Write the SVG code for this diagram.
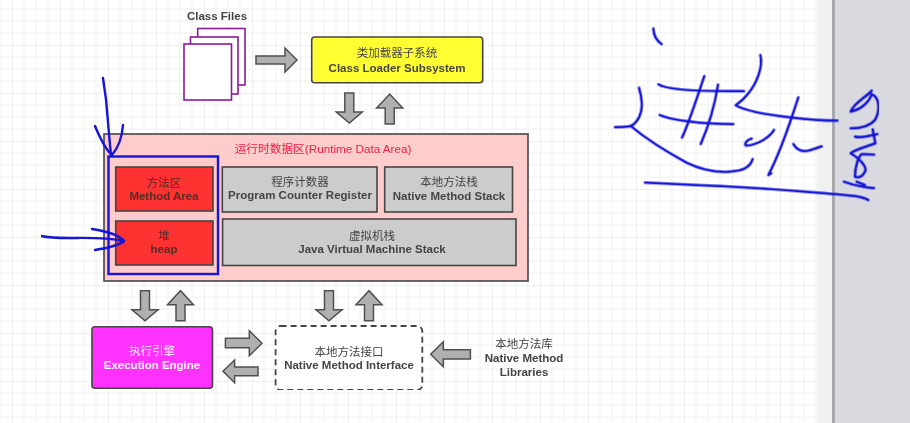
<svg xmlns="http://www.w3.org/2000/svg" width="910" height="423" viewBox="0 0 910 423">
<style>
text{font-family:"Liberation Sans","Noto Sans CJK SC",sans-serif;font-size:11.5px;text-anchor:middle;fill:#444}
.b{font-weight:bold}
.box{stroke:#444;stroke-width:1.6}
.gray{fill:#cccccc}
.red{fill:#ff3030}
.red text{fill:#5c2a2a}
.arr{fill:#b0b0b0;stroke:#505050;stroke-width:1.5;stroke-linejoin:miter}
.file{fill:#fff;stroke:#8a1a96;stroke-width:1.6}
.ink{fill:none;stroke:#1212d8;stroke-linecap:round;stroke-linejoin:round}
</style>
<defs>
<filter id="soft" x="0" y="0" width="100%" height="100%"><feGaussianBlur stdDeviation="0.4"/></filter>
<pattern id="g" width="48" height="48" patternUnits="userSpaceOnUse" x="12" y="45">
<path d="M12 0V48M24 0V48M36 0V48M0 12H48M0 24H48M0 36H48" fill="none" stroke="#f0f0f1" stroke-width="1"/>
<path d="M0 0V48M0 0H48" fill="none" stroke="#e2e2e4" stroke-width="1"/>
</pattern>
<path id="down" d="M-4.5 0H4.5V19H13L0 30L-13 19H-4.5Z"/>
<path id="up" d="M-4.5 30H4.5V14H13L0 0L-13 14H-4.5Z"/>
</defs>

<rect width="910" height="423" fill="#fff"/>
<rect width="817" height="423" fill="url(#g)"/>
<rect x="817" width="15" height="423" fill="#f1f1f1"/>
<rect x="835" width="75" height="423" fill="#d9dadf"/>
<rect x="832" width="3" height="423" fill="#a9a9ae"/>

<g id="diagram" filter="url(#soft)">
<g id="class-files">
<rect class="file" x="197.7" y="28.5" width="47.3" height="56.5"/>
<rect class="file" x="190.5" y="37" width="47.5" height="57"/>
<rect class="file" x="184" y="44" width="47.5" height="56"/>
<text class="b" x="217" y="20" font-size="11">Class Files</text>
</g>

<g id="class-loader">
<rect class="box" x="311.7" y="37" width="171" height="45.7" rx="3" fill="#ffff33"/>
<text x="397" y="57">类加载器子系统</text>
<text class="b" x="397" y="72">Class Loader Subsystem</text>
</g>

<g id="runtime-area">
<rect class="box" x="104" y="134" width="424" height="147" fill="#ffcccc"/>
<text x="323" y="153" style="fill:#ee2244;font-size:11.7px">运行时数据区(Runtime Data Area)</text>
</g>

<g id="method-area" class="red">
<rect class="box" x="115.7" y="167" width="97.3" height="44"/>
<text x="164" y="187">方法区</text>
<text class="b" x="164" y="200">Method Area</text>
</g>
<g id="pc-register">
<rect class="box gray" x="222.3" y="167" width="154.7" height="45"/>
<text x="300" y="186">程序计数器</text>
<text class="b" x="300" y="199">Program Counter Register</text>
</g>
<g id="native-stack">
<rect class="box gray" x="384.7" y="167" width="127.8" height="45"/>
<text x="449" y="186">本地方法栈</text>
<text class="b" x="449" y="200">Native Method Stack</text>
</g>
<g id="heap" class="red">
<rect class="box" x="115.7" y="221" width="97.3" height="44"/>
<text x="164" y="240">堆</text>
<text class="b" x="164" y="253">heap</text>
</g>
<g id="jvm-stack">
<rect class="box gray" x="222.6" y="219" width="293.4" height="46.5"/>
<text x="372" y="240">虚拟机栈</text>
<text class="b" x="372" y="253">Java Virtual Machine Stack</text>
</g>

<g id="execution-engine">
<rect class="box" x="92" y="326.7" width="120.5" height="61.6" rx="3" fill="#ff33ff"/>
<text x="152" y="355" style="fill:#fff">执行引擎</text>
<text class="b" x="152" y="369" style="fill:#fff">Execution Engine</text>
</g>
<g id="native-interface">
<rect x="275.6" y="326" width="146.7" height="64" rx="5" fill="#fff" stroke="#444" stroke-width="1.8" stroke-dasharray="6 4"/>
<text x="349" y="356">本地方法接口</text>
<text class="b" x="349" y="369">Native Method Interface</text>
</g>
<g id="native-libraries">
<text x="524" y="348">本地方法库</text>
<text class="b" x="524" y="362" font-size="12">Native Method</text>
<text class="b" x="524" y="376">Libraries</text>
</g>

<g id="connectors">
<path class="arr" d="M256 56H285V48L297 60L285 72V64H256Z"/>
<use href="#down" class="arr" x="349.3" y="93"/>
<use href="#up" class="arr" x="389.7" y="94"/>
<use href="#down" class="arr" x="145" y="290.7"/>
<use href="#up" class="arr" x="180.5" y="290.7"/>
<use href="#down" class="arr" x="329" y="290.7"/>
<use href="#up" class="arr" x="369" y="290.7"/>
<path class="arr" d="M225.4 338.3H249.3V330.7L262 343.2L249.3 355.7V347.7H225.4Z"/>
<path class="arr" d="M258 367H234.6V360L223 371.3L234.6 382.7V375.7H258Z"/>
<path class="arr" d="M470.4 349.7H443.3V341.7L430.7 354.2L443.3 366.7V359H470.4Z"/>
</g>

<g id="annotations">
<rect x="108.5" y="156.5" width="109.5" height="117.5" fill="none" stroke="#1212d8" stroke-width="2.4"/>
<g class="ink" stroke-width="2.4">
<path d="M103 78C105 90 107 105 108 122C109 135 110 145 111 155"/>
<path d="M95 126C100 138 106 150 112 155C118 148 122 138 123 125"/>
<path d="M41 236C50 238 60 238 69 238C85 238 105 237 124 241"/>
<path d="M92 229C105 231 118 234 124 241C118 246 108 248 95 250"/>
</g>
<g class="ink" stroke-width="7.5" transform="translate(600 0) scale(.3333)">
<path d="M160 86C161 105 170 122 185 132"/>
<path d="M117 263C125 290 130 325 118 350C110 365 100 375 92 378C80 380 60 381 45 381"/>
<path d="M92 378C130 410 190 450 260 488C310 512 350 518 390 515C425 512 450 505 458 477"/>
<path d="M175 253C200 268 290 275 432 273"/>
<path d="M313 228C295 280 270 360 246 413"/>
<path d="M354 254C345 310 325 380 302 432"/>
<path d="M179 345C210 360 300 372 400 372"/>
<path d="M481 165C490 200 470 250 445 280C430 300 415 310 407 316C440 335 510 345 570 352C620 358 670 362 712 362"/>
<path d="M595 292C570 370 535 470 505 525L514 520"/>
<path d="M522 390C510 410 475 435 438 437C432 430 440 420 455 416"/>
<path d="M580 432C590 450 605 456 625 452C640 448 655 442 665 439"/>
<path d="M135 548C300 555 500 565 650 578C720 584 780 585 805 600"/>
<path d="M815 272C800 290 760 310 752 335C785 328 808 305 815 283C838 290 842 330 825 360C810 378 780 385 752 385"/>
<path d="M818 388L826 430C800 440 760 450 752 460C770 470 795 490 797 510C790 530 775 535 765 530C765 500 775 470 785 462L822 464"/>
<path d="M765 410C790 416 815 405 832 402"/>
<path d="M732 545C760 555 790 562 822 564M770 545L795 555"/>
</g>
</g>
</g>
</svg>
